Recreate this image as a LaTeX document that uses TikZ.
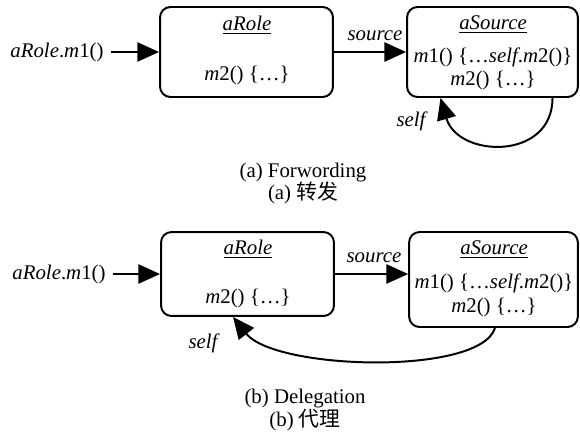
\documentclass[tikz,border=0pt]{standalone}
\usepackage{fontspec}
\setmainfont{Liberation Serif}
\newfontfamily\cjk{Noto Sans CJK SC}
\usetikzlibrary{arrows.meta}

\tikzset{
	obj/.style   = {draw, line width=0.95pt, rounded corners=5pt},
	link/.style  = {line width=0.95pt, -{Triangle[length=10.4pt,width=9.2pt]}},
	lbl/.style   = {font=\itshape, inner sep=1pt},
}

\begin{document}
\begin{tikzpicture}[x=0.48pt,y=-0.48pt]
	\useasboundingbox (0,0) rectangle (580,435);

	% (a) forwarding
	\node (roleA) at (246.5, 52)	[obj, minimum width=83pt, minimum height=43.2pt]	{};
	\node (srcA)  at (492.5, 52)	[obj, minimum width=82pt, minimum height=43.2pt]	{};
	\node (roleAname) at (247, 25)	{\underline{\textit{aRole}}};
	\node (roleAm2)   at (247, 75)	{\textit{m}2() \{\ldots\}};
	\node (srcAname)  at (493, 25)	{\underline{\textit{aSource}}};
	\node (srcAm1)    at (493, 57)	{\textit{m}1() \{\ldots\textit{self}.\textit{m}2()\}};
	\node (srcAm2)    at (493, 80)	{\textit{m}2() \{\ldots\}};
	\node (callA)     at (57, 52)	{\textit{aRole}.\textit{m}1()};
	\node (srcAlbl)   at (375, 36)	[lbl]	{source};
	\node (selfAlbl)  at (411, 121)	[lbl]	{self};
	\node (capA1)     at (303, 173)	{(a) Forwording};
	\node (capA2)     at (303, 193)	{(a)\ {\cjk 转发}};
	\draw[link] (callA) -- (roleA);
	\draw[link] (roleA) -- (srcA);
	\draw[link] ([shift={(60,0)}]srcA.south) .. controls +(0,63) and (458,158) .. ([shift={(-52,0)}]srcA.south);

	% (b) delegation
	\node (roleB) at (247.5, 274)	[obj, minimum width=83pt, minimum height=40.3pt]	{};
	\node (srcB)  at (493.5, 279.5)	[obj, minimum width=81pt, minimum height=45.6pt]	{};
	\node (roleBname) at (248, 249)	{\underline{\textit{aRole}}};
	\node (roleBm2)   at (248, 298)	{\textit{m}2() \{\ldots\}};
	\node (srcBname)  at (494, 250)	{\underline{\textit{aSource}}};
	\node (srcBm1)    at (494, 283)	{\textit{m}1() \{\ldots\textit{self}.\textit{m}2()\}};
	\node (srcBm2)    at (494, 307)	{\textit{m}2() \{\ldots\}};
	\node (callB)     at (59, 274)	{\textit{aRole}.\textit{m}1()};
	\node (srcBlbl)   at (374, 258)	[lbl]	{source};
	\node (selfBlbl)  at (203, 343)	[lbl]	{self};
	\node (capB1)     at (305, 399)	{(b) Delegation};
	\node (capB2)     at (305, 420)	{(b)\ {\cjk 代理}};
	\draw[link] (callB) -- (roleB);
	\draw[link] (roleB.east) -- (roleB.east -| srcB.west);
	\draw[link] ([shift={(1.5,0)}]srcB.south) .. controls +(-15,48) and (275,370) .. ([shift={(-14.5,0)}]roleB.south);
\end{tikzpicture}
\end{document}
